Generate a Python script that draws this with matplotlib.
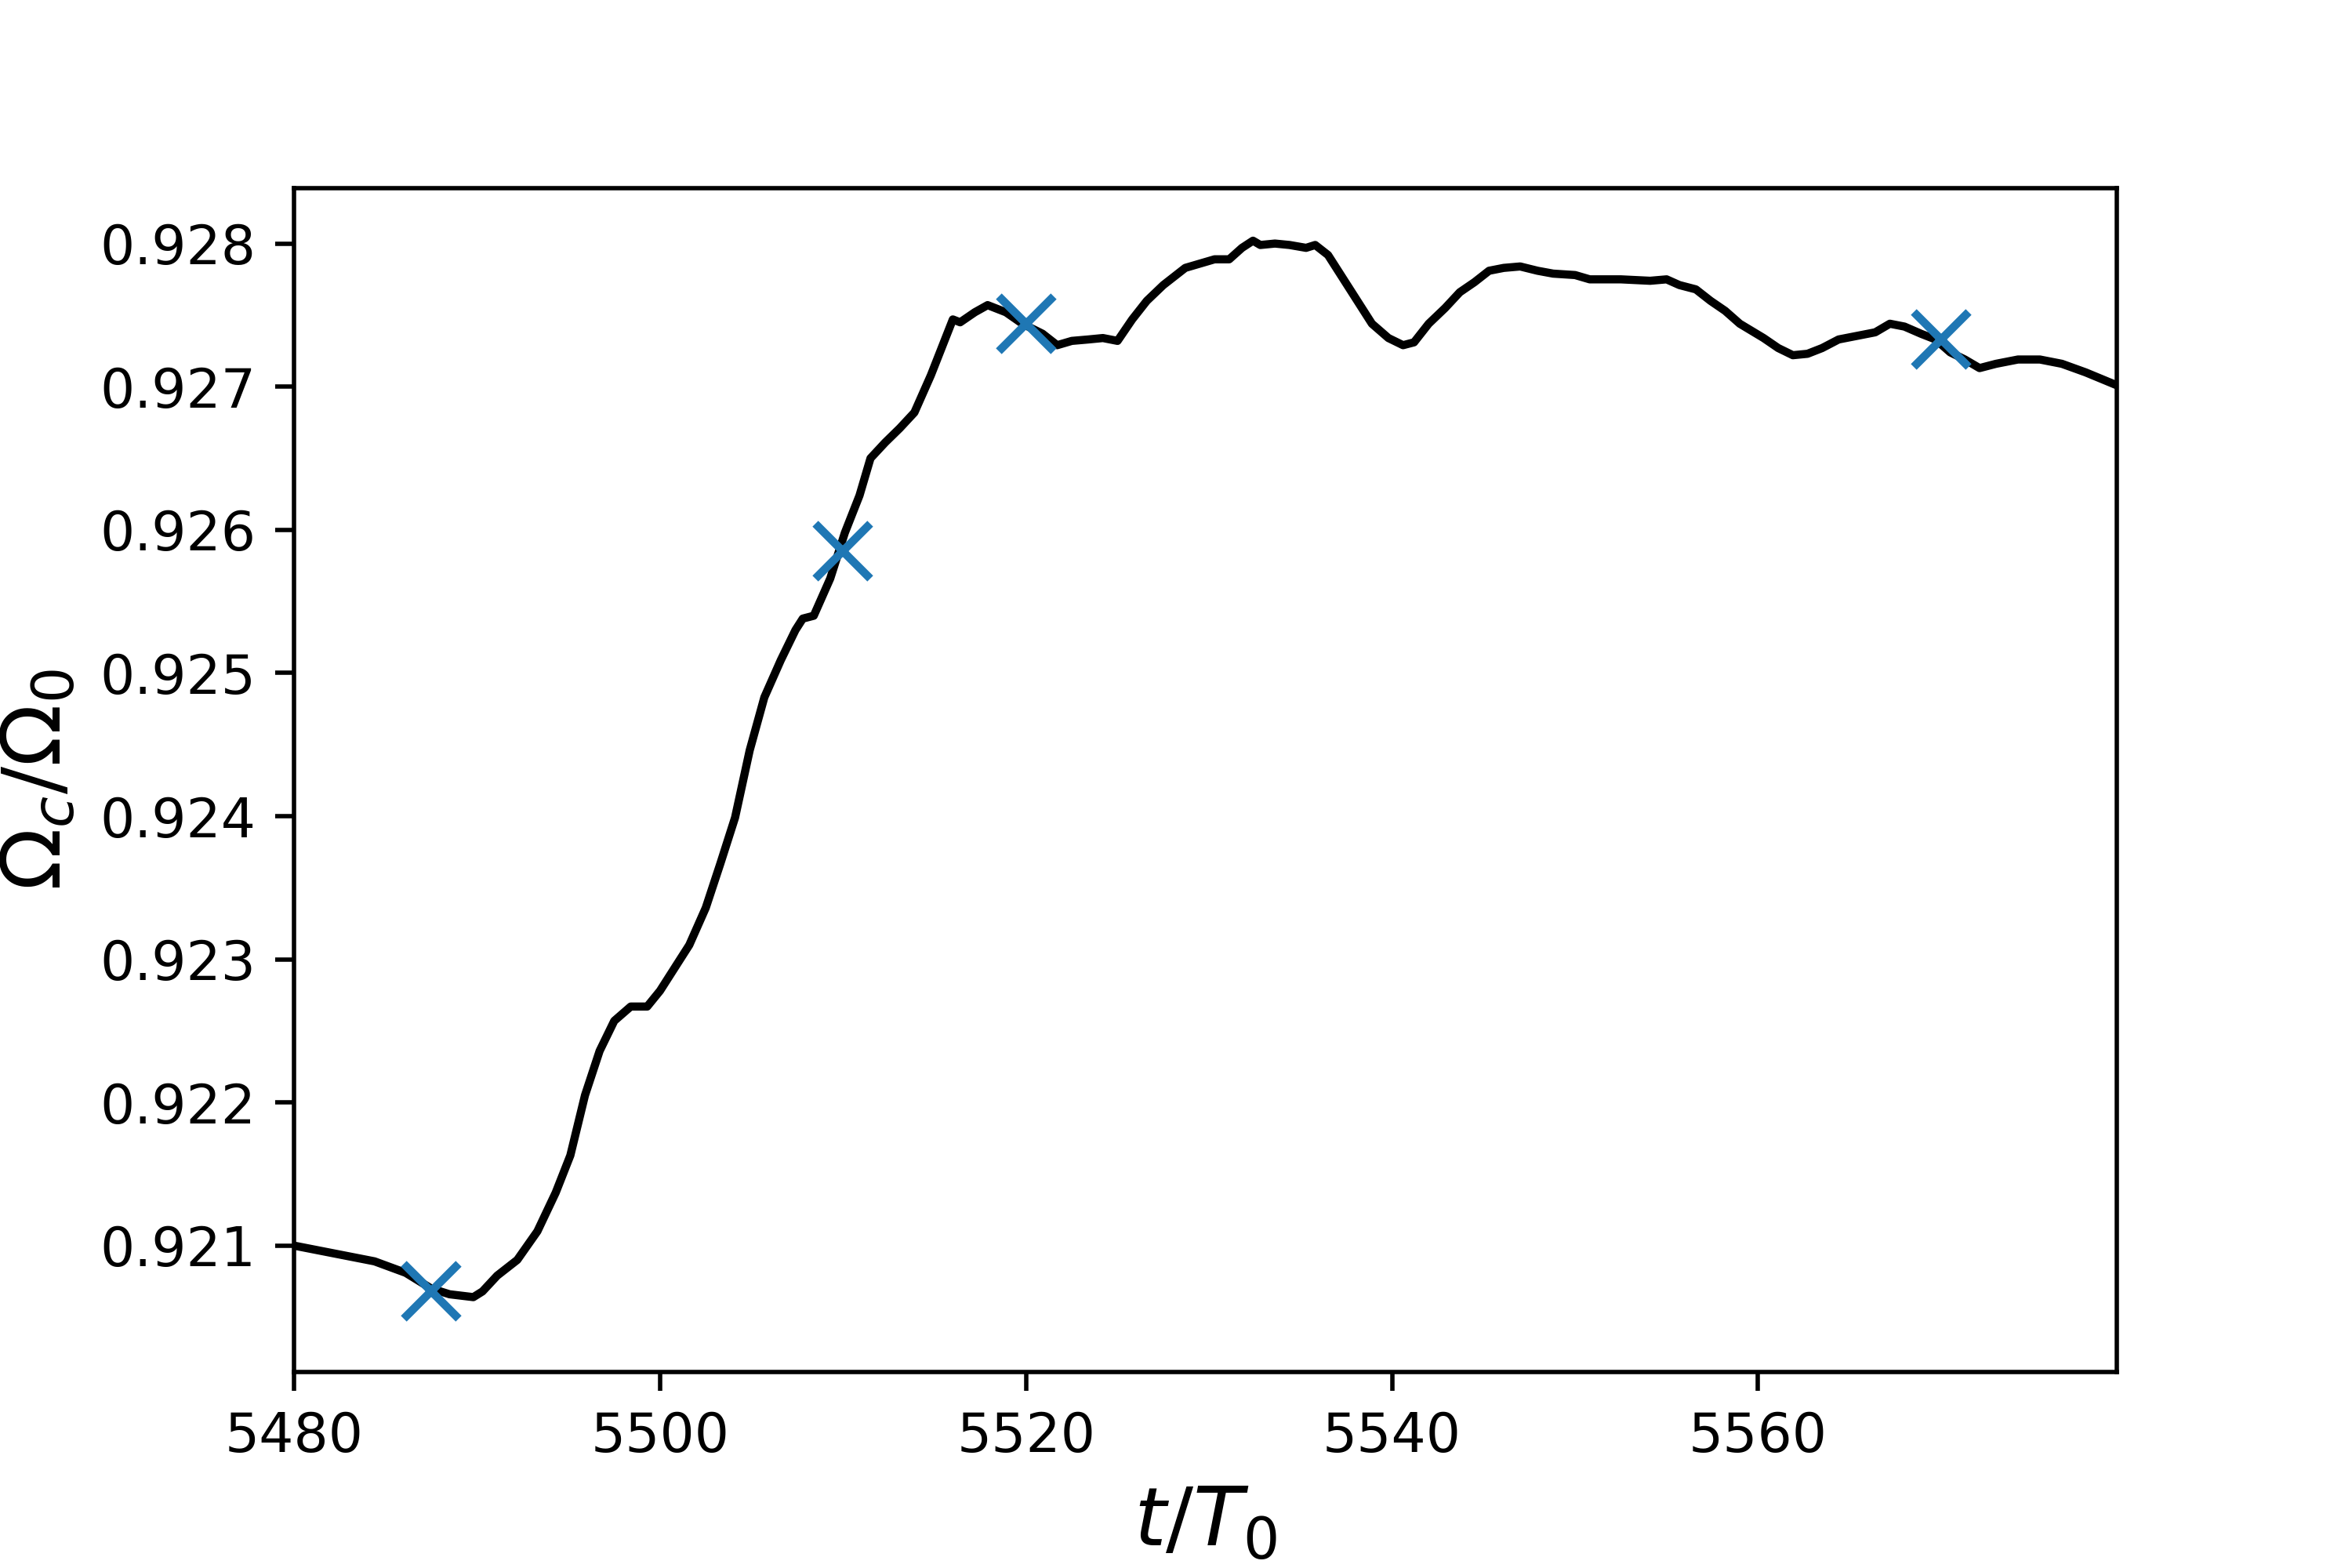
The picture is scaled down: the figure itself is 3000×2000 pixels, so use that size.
import matplotlib
matplotlib.use("Agg")
import matplotlib.pyplot as plt
import numpy as np

# rotation rate of the core
t = [5480.0, 5482.8, 5484.4, 5486.1, 5487.5, 5488.5, 5489.8, 5490.3, 5491.1, 5492.2,
     5493.3, 5494.3, 5495.1, 5495.9, 5496.7, 5497.5, 5498.4, 5499.3, 5500.0, 5500.8,
     5501.6, 5502.5, 5503.3, 5504.1, 5504.9, 5505.7, 5506.6, 5507.4, 5507.8, 5508.4,
     5509.3, 5510.1, 5510.9, 5511.5, 5512.3, 5513.1, 5513.9, 5514.8, 5515.6, 5516.0,
     5516.4, 5517.2, 5517.9, 5518.9, 5519.8, 5520.9, 5521.7, 5522.5, 5523.4, 5524.2,
     5525.0, 5525.8, 5526.6, 5527.5, 5528.7, 5529.5, 5530.3, 5531.1, 5531.8, 5532.4,
     5532.8, 5533.6, 5534.4, 5535.3, 5535.8, 5536.5, 5537.3, 5538.1, 5538.9, 5539.8,
     5540.6, 5541.2, 5542.0, 5542.9, 5543.7, 5544.5, 5545.3, 5546.1, 5547.0, 5547.95,
     5548.8, 5550.0, 5550.8, 5552.5, 5554.1, 5555.0, 5555.7, 5556.6, 5557.4, 5558.2,
     5559.0, 5560.3, 5561.1, 5561.9, 5562.7, 5563.5, 5564.4, 5565.6, 5566.4, 5567.2,
     5568.0, 5568.9, 5569.7, 5570.5, 5571.3, 5572.1, 5573.0, 5574.2, 5575.4, 5576.6,
     5577.9, 5579.6]
omega = [0.92100, 0.92093, 0.92089, 0.92081, 0.92070, 0.92066, 0.92064, 0.92068, 0.92079, 0.92090,
         0.92110, 0.92137, 0.92163, 0.92205, 0.92236, 0.92257, 0.92267, 0.92267, 0.92278, 0.92294,
         0.92310, 0.92336, 0.92367, 0.92399, 0.92446, 0.92483, 0.92509, 0.92530, 0.92538, 0.92540,
         0.92566, 0.92598, 0.92624, 0.92650, 0.92661, 0.92671, 0.92682, 0.92708, 0.92734, 0.92747,
         0.92745, 0.92752, 0.92757, 0.92752, 0.92744, 0.92737, 0.92729, 0.92732, 0.92733, 0.92734,
         0.92732, 0.92747, 0.92760, 0.92771, 0.92783, 0.92786, 0.92789, 0.92789, 0.92797, 0.92802,
         0.92799, 0.92800, 0.92799, 0.92797, 0.92799, 0.92792, 0.92776, 0.92760, 0.92744, 0.92734,
         0.92729, 0.92731, 0.92744, 0.92755, 0.92766, 0.92773, 0.92781, 0.92783, 0.92784, 0.92781,
         0.92779, 0.92778, 0.92775, 0.92775, 0.92774, 0.92775, 0.92771, 0.92768, 0.92760, 0.92753,
         0.92744, 0.92734, 0.92727, 0.92722, 0.92723, 0.92727, 0.92733, 0.92736, 0.92738, 0.92744,
         0.92742, 0.92737, 0.92733, 0.92724, 0.92719, 0.92713, 0.92716, 0.92719, 0.92719, 0.92716,
         0.92710, 0.92701]

# marked instants
t_mark = [5487.5, 5510.0, 5520.0, 5570.0]
omega_mark = [0.92068, 0.92585, 0.92744, 0.92733]

fig = plt.figure(figsize=(6, 4), dpi=500)
plt.subplots_adjust(left=0.125, right=0.9, top=0.88, bottom=0.125)
plt.plot(t, omega, 'k-', lw=1.5)
plt.plot(t_mark, omega_mark, 'x', color='tab:blue', markersize=10, markeredgewidth=1.5)
plt.xlim(5480, 5579.6)
plt.ylim(0.920117, 0.928387)
plt.xticks([5480, 5500, 5520, 5540, 5560])
plt.xlabel(r'$t/T_0$', fontsize=15)
plt.ylabel(r'$\Omega_c/\Omega_0$', fontsize=15)
plt.savefig('out.png', dpi=500)
